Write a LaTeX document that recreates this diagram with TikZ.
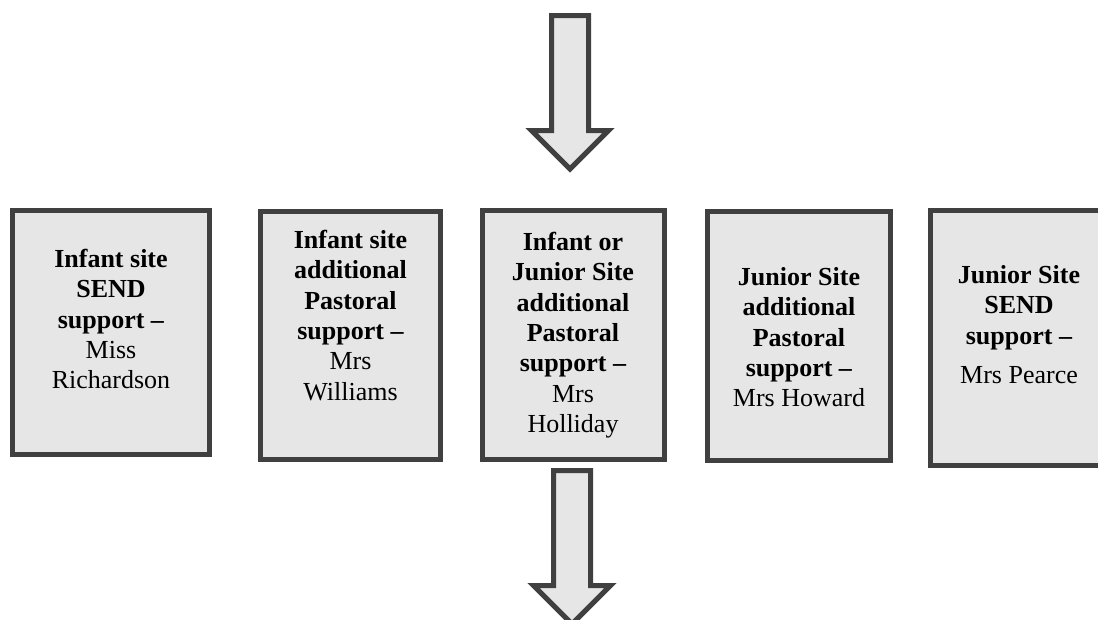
\documentclass[tikz,border=0pt]{standalone}
\usepackage{fontspec}
\setmainfont{Liberation Serif}
\definecolor{boxfill}{HTML}{E6E6E6}
\definecolor{boxline}{HTML}{404040}
\tikzset{
  box/.style={draw=boxline, line width=5pt, fill=boxfill, inner sep=0pt},
  boxtext/.style={anchor=north, align=center, inner sep=0pt, font=\fontsize{26}{30.4}\selectfont},
  blockarrow/.style={draw=boxline, fill=boxfill, line width=5pt, miter limit=10}
}
\newcommand{\firstline}{\rule{0pt}{19pt}}
\begin{document}
\begin{tikzpicture}[x=1pt, y=-1pt]
\useasboundingbox (0,0) rectangle (1098,619);
\clip (0,0) rectangle (1098,619);
% block arrows
\draw[blockarrow] (551.5,15.5) -- (588.5,15.5) -- (588.5,130.5) -- (608.5,130.5) -- (570,169) -- (531.5,130.5) -- (551.5,130.5) -- cycle;
\draw[blockarrow] (553.5,470.5) -- (590.5,470.5) -- (590.5,585.5) -- (610.5,585.5) -- (572,624) -- (533.5,585.5) -- (553.5,585.5) -- cycle;
% boxes
\node[box, minimum width=197pt, minimum height=244pt] (b1) at (111,332.5) {};
\node[box, minimum width=180pt, minimum height=248pt] (b2) at (350.5,335.5) {};
\node[box, minimum width=182pt, minimum height=249pt] (b3) at (573.5,335) {};
\node[box, minimum width=183pt, minimum height=249pt] (b4) at (799,336) {};
\node[box, minimum width=178pt, minimum height=255pt] (b5) at (1019.25,338) {};
% texts
\node[boxtext] (t1) at (111,248) {\firstline\textbf{Infant site}\\\textbf{SEND}\\\textbf{support –}\\Miss\\Richardson};
\node[boxtext] (t2) at (350.5,229) {\firstline\textbf{Infant site}\\\textbf{additional}\\\textbf{Pastoral}\\\textbf{support –}\\Mrs\\Williams};
\node[boxtext] (t3) at (573,231) {\firstline\textbf{Infant or}\\\textbf{Junior Site}\\\textbf{additional}\\\textbf{Pastoral}\\\textbf{support –}\\Mrs\\Holliday};
\node[boxtext] (t4) at (799,266) {\firstline\textbf{Junior Site}\\\textbf{additional}\\\textbf{Pastoral}\\\textbf{support –}\\Mrs Howard};
\node[boxtext] (t5) at (1019,264) {\firstline\textbf{Junior Site}\\\textbf{SEND}\\\textbf{support –}\\[9pt]Mrs Pearce};
\end{tikzpicture}
\end{document}
